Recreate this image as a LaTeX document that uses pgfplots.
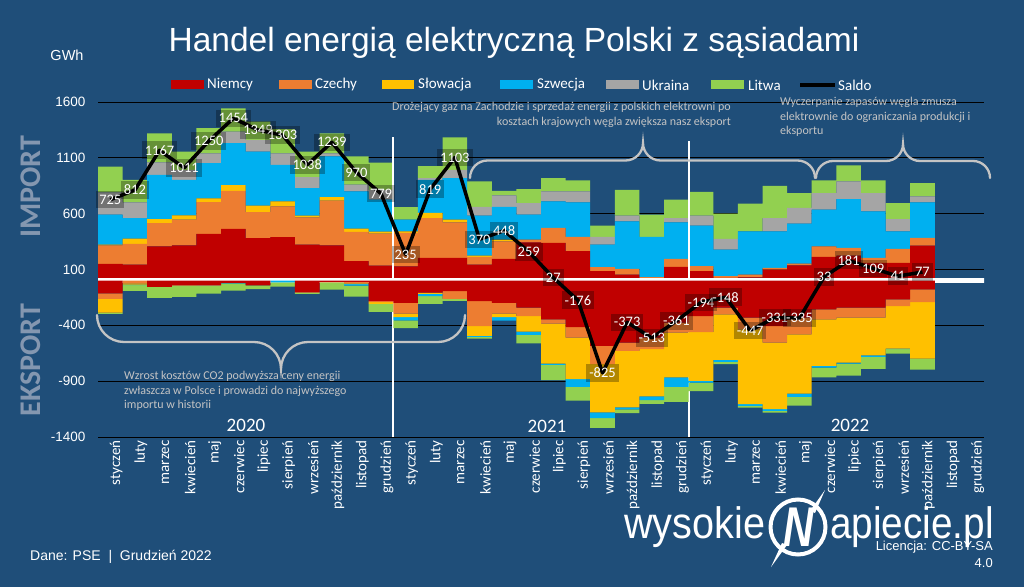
\documentclass[border=0pt]{standalone}
\usepackage{pgfplots}
\pgfplotsset{compat=1.18}
\usepackage{pgfplotstable}
\usepackage{fontspec}
\setmainfont{Carlito}
\newfontfamily\arial{Liberation Sans}

\definecolor{bg}{HTML}{1F4E79}
\definecolor{cDE}{HTML}{C00000}
\definecolor{cCZ}{HTML}{ED7D31}
\definecolor{cSK}{HTML}{FFC000}
\definecolor{cSE}{HTML}{00B0F0}
\definecolor{cUA}{HTML}{A5A5A5}
\definecolor{cLT}{HTML}{92D050}
\definecolor{note}{HTML}{C4C4C4}
\definecolor{bigaxis}{HTML}{8497B0}

% monthly import from each neighbour, GWh (Jan 2020 = 0)
\pgfplotstableread{
x  de  cz  sk  se  ua  lt
0  150 167 6   268 200 231
1  144 185 47  185 140 202
2  308 208 36  396 112 260
3  317 229 39  318 90  163
4  418 286 33  315 89  224
5  463 342 51  375 104 208
6  382 232 57  485 104 164
7  391 274 45  327 104 215
8  323 244 15  247 98  229
9  317 399 32  364 29  179
10 174 262 30  333 60  253
11 135 286 18  286 89  244
12 129 298 15  104 0   113
13 204 357 45  297 15  108
14 204 318 24  372 75  291
15 144 69  12  357 78  229
16 195 158 15  292 104 41
17 344 24  0   223 104 125
18 338 134 0   238 89  119
19 264 128 0   309 98  99
20 85  36  0   202 69  101
21 55  51  0   426 50  232
22 15  16  0   361 0   199
23 124 71  0   328 38  164
24 85  45  0   363 89  214
25 25  15  0   238 96  226
26 30  25  0   387 0   247
27 100 15  0   327 119 289
28 136 17  0   358 140 134
29 213 95  0   328 149 113
30 225 68  0   438 158 143
31 159 45  0   417 164 113
32 159 125 0   158 110 143
33 314 69  0   318 54  119
}\imports

% monthly export to each neighbour, GWh
\pgfplotstableread{
x  de   cz   sk   se  ua lt
0  -114 -48  -125 0   0  -10
1  0    -25  -10  -5  0  -51
2  -55  0    0    0   0  -98
3  -40  -5   0    0   0  -100
4  -40  -4   0    -3  0  -68
5  -20  0    0    -5  0  -64
6  -43  0    0    0   0  -32
7  0    0    0    -15 0  -38
8  -102 -5   0    0   0  -11
9  -10  -5   0    0   0  -66
10 -10  -15  -5   -15 0  -97
11 -183 -9   -15  0   0  -72
12 -198 -98  -30  -30 0  -68
13 -108 0    -10  -20 0  -69
14 -93  -69  0    0   0  -19
15 -183 -223 -89  -8  0  -16
16 -198 -98  -30  -31 0  0
17 -242 -75  -140 -29 0  -75
18 -346 -39  -357 -12 0  -137
19 -415 -95  -372 -69 0  -123
20 -585 -163 -432 -51 0  -87
21 -555 -74  -506 -18 0  -34
22 -510 -104 -423 -33 0  -34
23 -376 -89  -402 -84 0  -135
24 -317 -143 -437 -15 0  -78
25 -242 -60  -408 -18 0  -20
26 -332 -104 -670 -15 0  -15
27 -406 -149 -595 -15 0  -16
28 -332 -148 -531 -29 0  -80
29 -257 -90  -416 -15 0  -87
30 -242 -90  -402 -8  0  -109
31 -242 -90  -336 -15 0  -106
32 -168 -60  -380 -5  0  -41
33 -78  -114 -506 0   0  -99
}\exports

% net balance
\pgfplotstableread{
x  saldo lab
0  725   725
1  812   812
2  1167  1167
3  1011  1011
4  1250  1250
5  1454  1454
6  1349  1349
7  1303  1303
8  1038  1038
9  1239  1239
10 970   970
11 779   779
12 235   235
13 819   819
14 1103  1103
15 370   370
16 448   448
17 259   259
18 27    27
19 -176  -176
20 -825  -825
21 -373  -373
22 -513  -513
23 -361  -361
24 -194  -194
25 -148  -148
26 -447  -447
27 -331  -331
28 -335  -335
29 33    33
30 181   181
31 109   109
32 41    41
33 77    77
}\saldo

\pgfplotsset{
  frame/.style={
    scale only axis, width=886pt, height=335pt,
    at={(98pt,150pt)}, anchor=south west,
    xmin=-0.5, xmax=35.5, ymin=-1400, ymax=1600,
  },
  stack/.style={frame, ybar stacked, bar width=1},
}

% curly braces: x0, x1, tip x, end y, radius
\newcommand\bracedown[5]{%
  \draw[note, line width=2.3pt, line cap=round]
    (#1,#4) arc[start angle=180, end angle=270, radius=#5]
    -- ({#3-#5},{#4-#5}) arc[start angle=90, end angle=0, radius=#5]
    arc[start angle=180, end angle=90, radius=#5]
    -- ({#2-#5},{#4-#5}) arc[start angle=270, end angle=360, radius=#5];}
\newcommand\braceup[5]{%
  \draw[note, line width=2.3pt, line cap=round]
    (#1,#4) arc[start angle=180, end angle=90, radius=#5]
    -- ({#3-#5},{#4+#5}) arc[start angle=270, end angle=360, radius=#5]
    arc[start angle=180, end angle=270, radius=#5]
    -- ({#2-#5},{#4+#5}) arc[start angle=90, end angle=0, radius=#5];}

\begin{document}
\begin{tikzpicture}[x=1pt,y=1pt]
\useasboundingbox (0,0) rectangle (1024,587);
\fill[bg] (0,0) rectangle (1024,587);

% imports
\begin{axis}[stack,
  axis line style={draw=none}, tick style={draw=none},
  ymajorgrids, grid style={black, line width=1pt},
  ytick={-1400,-900,-400,100,600,1100,1600},
  yticklabels={-1400,-900,-400,100,600,1100,1600},
  yticklabel style={font=\arial\fontsize{13.5}{14}\selectfont, text=white, xshift=-9pt},
  xtick={0,...,35},
  xticklabels={styczeń,luty,marzec,kwiecień,maj,czerwiec,lipiec,sierpień,wrzesień,październik,listopad,grudzień,
               styczeń,luty,marzec,kwiecień,maj,czerwiec,lipiec,sierpień,wrzesień,październik,listopad,grudzień,
               styczeń,luty,marzec,kwiecień,maj,czerwiec,lipiec,sierpień,wrzesień,październik,listopad,grudzień},
  xticklabel style={rotate=90, anchor=east, font=\fontsize{15}{15}\selectfont, text=white, yshift=-6pt},
]
\addplot[fill=cDE, draw=none] table[x=x, y=de] {\imports};
\addplot[fill=cCZ, draw=none] table[x=x, y=cz] {\imports};
\addplot[fill=cSK, draw=none] table[x=x, y=sk] {\imports};
\addplot[fill=cSE, draw=none] table[x=x, y=se] {\imports};
\addplot[fill=cUA, draw=none] table[x=x, y=ua] {\imports};
\addplot[fill=cLT, draw=none] table[x=x, y=lt] {\imports};
\end{axis}

% exports
\begin{axis}[stack, hide axis]
\addplot[fill=cDE, draw=none] table[x=x, y=de] {\exports};
\addplot[fill=cCZ, draw=none] table[x=x, y=cz] {\exports};
\addplot[fill=cSK, draw=none] table[x=x, y=sk] {\exports};
\addplot[fill=cSE, draw=none] table[x=x, y=se] {\exports};
\addplot[fill=cUA, draw=none] table[x=x, y=ua] {\exports};
\addplot[fill=cLT, draw=none] table[x=x, y=lt] {\exports};
\draw[white, line width=4.5pt] (axis cs:-0.5,0) -- (axis cs:35.55,0);
\draw[white, line width=2pt] (axis cs:11.5,-1400) -- (axis cs:11.5,1290);
\draw[white, line width=2pt] (axis cs:23.5,-1400) -- (axis cs:23.5,1255);
\end{axis}

% balance
\begin{axis}[frame, hide axis, clip=false]
\addplot[black, line width=3.5pt, line join=round, mark=none,
  nodes near coords, point meta=explicit symbolic,
  every node near coord/.append style={anchor=center, font=\fontsize{14.5}{15}\selectfont,
    text=white, fill=black, fill opacity=0.3, text opacity=1,
    inner xsep=3pt, inner ysep=4pt}]
  table[x=x, y=saldo, meta=lab] {\saldo};
\end{axis}

% title and axis words
\node[text=white, font=\arial\fontsize{33.5}{36}\selectfont] at (514,544) {Handel energią elektryczną Polski z sąsiadami};
\node[text=white, font=\arial\fontsize{14.5}{15}\selectfont] at (67,532) {GWh};
\node[rotate=90, text=bigaxis, font=\bfseries\fontsize{30}{30}\selectfont] at (31,400) {IMPORT};
\node[rotate=90, text=bigaxis, font=\bfseries\fontsize{30}{30}\selectfont] at (31,227) {EKSPORT};

% legend
\begin{scope}[font=\fontsize{15}{15}\selectfont, text=white]
\fill[cDE] (171,497.5) rectangle (204,506.5); \node[anchor=west, inner sep=0] at (207,502) {Niemcy};
\fill[cCZ] (279,497.5) rectangle (312,506.5); \node[anchor=west, inner sep=0] at (315,502) {Czechy};
\fill[cSK] (382,497.5) rectangle (414,506.5); \node[anchor=west, inner sep=0] at (418,502) {Słowacja};
\fill[cSE] (500,497.5) rectangle (533,506.5); \node[anchor=west, inner sep=0] at (537,502) {Szwecja};
\fill[cUA] (606,497.5) rectangle (639,506.5); \node[anchor=west, inner sep=0] at (642,502) {Ukraina};
\fill[cLT] (711,497.5) rectangle (744,506.5); \node[anchor=west, inner sep=0] at (748,502) {Litwa};
\draw[black, line width=3.5pt] (800,502) -- (835,502); \node[anchor=west, inner sep=0] at (838,502) {Saldo};
\end{scope}

% years
\begin{scope}[font=\fontsize{19}{19}\selectfont, text=white]
\node at (246,162) {2020};
\node at (547,161) {2021};
\node at (850,162) {2022};
\end{scope}

% braces and comments
\bracedown{97}{465}{281}{272}{27}
\braceup{470}{815}{643}{409}{17.5}
\braceup{816}{990}{903}{409}{17}
\begin{scope}[text=note, font=\fontsize{12}{14.5}\selectfont]
\node[anchor=north east, align=right, inner sep=0] at (731,485) {Drożejący gaz na Zachodzie i sprzedaż energii z polskich elektrowni po\\kosztach krajowych węgla zwiększa nasz eksport};
\node[anchor=north west, align=left, inner sep=0] at (780,490) {Wyczerpanie zapasów węgla zmusza\\elektrownie do ograniczania produkcji i\\eksportu};
\node[anchor=north west, align=left, inner sep=0] at (124,216) {Wzrost kosztów CO2 podwyższa ceny energii\\zwłaszcza w Polsce i prowadzi do najwyższego\\importu w historii};
\end{scope}

% footer
\node[anchor=west, text=white, font=\arial\fontsize{14}{14}\selectfont, inner sep=0] at (30,30) {Dane: PSE\ \ |\ \ Grudzień 2022};
\node[anchor=base west, text=white, inner sep=0] at (624,49) {\scalebox{0.9}[1]{\arial\fontsize{44}{44}\selectfont wysokie}};
\node[anchor=base west, text=white, inner sep=0] at (830,49) {\scalebox{0.88}[1]{\arial\fontsize{44}{44}\selectfont apiecie.pl}};
\draw[white, line width=4pt] (798,60) circle (27.5);
\node[text=white, inner sep=0] at (799,60) {\scalebox{0.75}[1]{\arial\bfseries\itshape\fontsize{56}{56}\selectfont N}};
\fill[white] (771,20) -- (782,44) -- (787,42) -- cycle;
\fill[white] (825,97) -- (810,76) -- (815,74) -- cycle;
\node[anchor=east, text=white, font=\arial\fontsize{13}{13}\selectfont, inner sep=0] at (993,40) {Licencja: CC-BY-SA};
\node[anchor=east, text=white, font=\arial\fontsize{13}{13}\selectfont, inner sep=0] at (993,24) {4.0};
\end{tikzpicture}
\end{document}
